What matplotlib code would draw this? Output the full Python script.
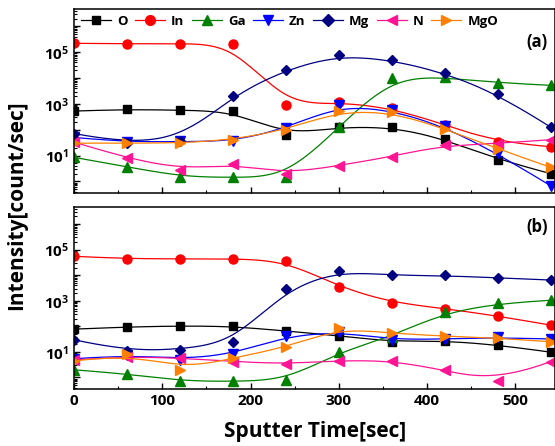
import numpy as np
import matplotlib
matplotlib.use('Agg')
import matplotlib.pyplot as plt
from matplotlib.ticker import LogLocator, FuncFormatter, MultipleLocator, NullFormatter

plt.rcParams['font.family'] = 'Open Sans'
plt.rcParams['font.weight'] = 'bold'
plt.rcParams['mathtext.fontset'] = 'custom'
plt.rcParams['mathtext.rm'] = 'Open Sans:bold'
plt.rcParams['mathtext.it'] = 'Open Sans:bold'
plt.rcParams['mathtext.bf'] = 'Open Sans:bold'
plt.rcParams['mathtext.default'] = 'rm'

time = [0, 60, 120, 180, 240, 300, 360, 420, 480, 540]
names = ['O', 'In', 'Ga', 'Zn', 'Mg', 'N', 'MgO']

# panel (a)
O_a = [525, 617, 562, 525, 63, 126, 126, 45, 6.9, 2.0]
In_a = [2.2e5, 2.1e5, 2.1e5, 2.1e5, 870, 1175, 676, 158, 32, 22]
Ga_a = [8.5, 3.7, 1.45, 1.45, 1.45, 126, 1.0e4, 1.1e4, 6.5e3, 5.2e3]
Zn_a = [50, 33, 35, 35, 112, 870, 562, 135, 12, 0.68]
Mg_a = [71, 30, 38, 2.1e3, 2.1e4, 7.6e4, 4.9e4, 1.6e4, 2.5e3, 126]
N_a = [33, 7.9, 2.75, 4.8, 2.0, 4.1, 9.1, 26, 29, 41]
MgO_a = [30, 30, 30, 41, 100, 513, 479, 110, 18, 3.5]

# panel (b)
O_b = [78, 95, 105, 100, 66, 43, 25, 28, 19, 9.8]
In_b = [5.5e4, 4.4e4, 4.4e4, 4.4e4, 3.7e4, 3.5e3, 850, 500, 257, 112]
Ga_b = [2.0, 1.4, 0.71, 0.71, 0.78, 9.8, 40, 370, 790, 1050]
Zn_b = [5.4, 7.6, 5.0, 8.3, 41, 62, 30, 32, 37, 32]
Mg_b = [30, 10.7, 12.3, 24, 2.8e3, 1.45e4, 9.8e3, 9.8e3, 7.9e3, 6.5e3]
N_b = [4.9, 6.6, 5.8, 4.2, 3.4, 4.6, 4.6, 1.9, 0.71, 4.2]
MgO_b = [4.4, 8.3, 2.0, 5.8, 15, 85, 54, 41, 35, 25]

panel_a = [O_a, In_a, Ga_a, Zn_a, Mg_a, N_a, MgO_a]
panel_b = [O_b, In_b, Ga_b, Zn_b, Mg_b, N_b, MgO_b]

colors = ['#000000', '#ff0000', '#008000', '#0000ff', '#000080', '#ff1493', '#ff8000']
markers = ['s', 'o', '^', 'v', 'D', '<', '>']
msizes = [5.2, 6.5, 6.5, 6.5, 5.6, 6.5, 6.5]


def bspline(x, y, num=300, k=3):
    # clamped cubic B-spline with the data points as control points (log y)
    P = np.column_stack([np.asarray(x, float), np.log10(y)])
    n = len(P)
    t = np.concatenate([np.zeros(k), np.linspace(0, 1, n - k + 1), np.ones(k)])
    u = np.linspace(0, 1, num)
    N = np.zeros((num, len(t) - 1))
    for i in range(len(t) - 1):
        N[:, i] = (u >= t[i]) & (u < t[i + 1])
    N[-1, n - 1] = 1.0
    for p in range(1, k + 1):
        Nn = np.zeros((num, len(t) - p - 1))
        for i in range(len(t) - p - 1):
            a = t[i + p] - t[i]
            b = t[i + p + 1] - t[i + 1]
            if a > 0:
                Nn[:, i] += (u - t[i]) / a * N[:, i]
            if b > 0:
                Nn[:, i] += (t[i + p + 1] - u) / b * N[:, i + 1]
        N = Nn
    C = N @ P
    return C[:, 0], 10 ** C[:, 1]


fig = plt.figure(figsize=(5.55, 4.46), dpi=100)
ax_a = fig.add_axes([74 / 555, 1 - 193 / 446, 481 / 555, 184 / 446])
ax_b = fig.add_axes([74 / 555, 1 - 389 / 446, 481 / 555, 182 / 446])


def ylab(v, pos):
    e = int(round(np.log10(v)))
    if e % 2 == 1:
        return r'$10^{%d}$' % e
    return ''


for ax, data, tag in [(ax_a, panel_a, '(a)'), (ax_b, panel_b, '(b)')]:
    for name, vals, c, m, ms in zip(names, data, colors, markers, msizes):
        sx, sy = bspline(time, vals)
        ax.plot(sx, sy, color=c, lw=0.9)
        ax.plot(time, vals, ls='none', marker=m, color=c, markersize=ms)
        ax.plot([], [], color=c, lw=0.9, marker=m, markersize=ms + 0.5, label=name)
    ax.set_yscale('log')
    ax.set_xlim(0, 545)
    ax.set_ylim(10 ** -0.45, 10 ** 6.67)
    ax.xaxis.set_major_locator(MultipleLocator(100))
    ax.xaxis.set_minor_locator(MultipleLocator(50))
    ax.yaxis.set_major_locator(LogLocator(base=10, numticks=20))
    ax.yaxis.set_minor_locator(LogLocator(base=10, subs=np.arange(2, 10), numticks=20))
    ax.yaxis.set_major_formatter(FuncFormatter(ylab))
    ax.yaxis.set_minor_formatter(NullFormatter())
    ax.tick_params(which='both', direction='in', top=False, right=False, labelsize=11)
    ax.tick_params(which='major', length=4, width=1)
    ax.tick_params(which='minor', length=2.2, width=0.8)
    for s in ax.spines.values():
        s.set_linewidth(1.1)
    ax.text(0.985, 0.82 if tag == '(a)' else 0.89, tag, transform=ax.transAxes,
            ha='right', va='center', fontsize=12, fontweight='bold')

ax_a.tick_params(axis='x', labelbottom=False)
ax_a.legend(loc='upper left', bbox_to_anchor=(-0.005, 1.02), ncol=7, frameon=False,
            fontsize=9.5, handlelength=2.3, handletextpad=0.45, columnspacing=0.55,
            borderaxespad=0.3)

fig.text(17 / 555, 1 - 205 / 446, 'Intensity[count/sec]', rotation=90,
         ha='center', va='center', fontsize=15, fontweight='bold')
fig.text(315 / 555, 1 - 431 / 446, 'Sputter Time[sec]',
         ha='center', va='center', fontsize=15, fontweight='bold')

fig.savefig('out.png', dpi=100)
